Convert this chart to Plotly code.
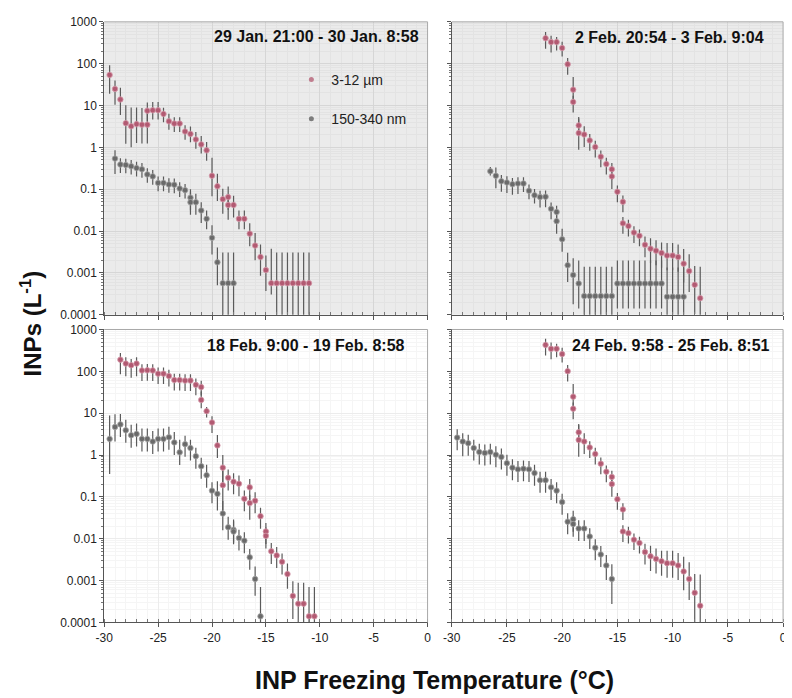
import plotly.graph_objects as go

# ---------------- data ----------------
# Panel 1: 29 Jan. 21:00 - 30 Jan. 8:58
tl_pink_x = [-29.5, -29, -28.5, -28, -27.5, -27, -26.5, -26, -26, -25.5, -25, -24.5, -24, -23.5, -23, -22.5, -22,
             -21.5, -21, -20.5, -20, -19.5, -19, -18.5, -18.5, -18, -17.5, -17, -16.5, -16, -15.5, -15,
             -14.5, -14, -13.5, -13, -12.5, -12, -11.5, -11]
tl_pink_y = [54, 25, 14, 3.8, 3.2, 3.6, 3.5, 3.5, 7.5, 7.7, 7.7, 6.3, 4.2, 3.7, 3.7, 2.4, 2.1,
             1.55, 1.18, 0.85, 0.21, 0.118, 0.058, 0.065, 0.042, 0.042, 0.0196, 0.0196, 0.0087, 0.0045, 0.0024, 0.00117,
             0.00057, 0.00057, 0.00057, 0.00057, 0.00057, 0.00057, 0.00057, 0.00057]
tl_pink_up = [.23, .2, .28, .43, .45, .4, .4, .4, .2, .2, .2, .15, .18, .15, .15, .15, .18,
              .18, .2, .2, .43, .3, .25, .25, .25, .22, .2, .2, .25, .3, .3, .35,
              .82, .73, .73, .73, .73, .73, .73, .73]
tl_pink_dn = [.45, .38, .37, .49, .5, .45, .45, .45, .25, .22, .22, .2, .2, .2, .2, .2, .2,
              .22, .22, .25, .49, .35, .35, .3, .35, .3, .25, .25, .3, .35, .45, .5,
              .27, 1.5, 1.5, 1.5, 1.5, 1.5, 1.5, 1.5]
tl_grey_x = [-29, -28.5, -28, -27.5, -27, -26.5, -26, -25.5, -25, -24.5, -24, -23.5, -23, -22.5, -22, -22,
             -21.5, -21, -20.5, -20, -19.5, -19, -18.5, -18]
tl_grey_y = [0.54, 0.39, 0.38, 0.355, 0.32, 0.30, 0.226, 0.203, 0.142, 0.142, 0.13, 0.128, 0.104, 0.095, 0.063, 0.049,
             0.049, 0.031, 0.0196, 0.0069, 0.0018, 0.00057, 0.00057, 0.00057]
tl_grey_up = [.2, .15, .15, .15, .15, .15, .15, .15, .15, .15, .15, .15, .15, .15, .2, .25,
              .2, .2, .2, .3, .35, .73, .73, .73]
tl_grey_dn = [.37, .2, .2, .2, .2, .2, .2, .2, .2, .2, .2, .2, .2, .2, .3, .3,
              .3, .3, .25, .4, .55, 1.5, 1.5, 1.5]

# Panel 2: 2 Feb. 20:54 - 3 Feb. 9:04
tr_pink_x = [-21.5, -21, -20.5, -20, -19.5, -19, -19, -18.5, -18.5, -18, -17.5, -17, -16.5, -16, -15.5, -15.5,
             -15, -14.5, -14.5, -14, -13.5, -13, -12.5, -12, -11.5, -11, -10.5, -10, -9.5, -9, -8.5, -8, -7.5]
tr_pink_y = [407, 328, 328, 237, 97, 24, 12.2, 3.35, 2.2, 2.03, 1.47, 1.02, 0.60, 0.40, 0.30, 0.203,
             0.087, 0.050, 0.0153, 0.0132, 0.0092, 0.0077, 0.0047, 0.0038, 0.0034, 0.0030, 0.0026, 0.0026, 0.0024,
             0.00167, 0.00111, 0.00052, 0.00025]
tr_pink_up = [.15, .15, .12, .15, .15, .3, .15, .2, .35, .2, .15, .15, .15, .15, .15, .15,
              .15, .15, .15, .15, .15, .15, .2, .25, .25, .25, .3, .3, .3, .35, .4, .45, .75]
tr_pink_dn = [.25, .25, .2, .2, .25, .3, .25, .2, .4, .3, .25, .25, .25, .25, .25, .3,
              .25, .25, .25, .25, .25, .25, .3, .35, .35, .35, .35, .35, .35, .45, .5, .7, 1.0]
tr_grey_x = [-26.5, -26, -25.5, -25, -24.5, -24, -23.5, -23, -22.5, -22, -21.5, -21, -20.5, -20.5, -20, -19.5, -19,
             -18.5, -18, -17.5, -17, -16.5, -16, -15.5, -15, -14.5, -14, -13.5, -13, -12.5, -12, -11.5, -11,
             -10.5, -10, -9.5, -9]
tr_grey_y = [0.27, 0.21, 0.155, 0.145, 0.132, 0.137, 0.137, 0.092, 0.072, 0.065, 0.066, 0.034, 0.0286, 0.0173,
             0.0064, 0.00153, 0.00089, 0.00056, 0.00028, 0.00028, 0.00028, 0.00028, 0.00028, 0.00028,
             0.00056, 0.00056, 0.00056, 0.00056, 0.00056, 0.00056, 0.00056, 0.00056, 0.00056,
             0.00027, 0.00027, 0.00027, 0.00027]
tr_grey_up = [.1, .2, .15, .15, .15, .15, .15, .15, .15, .15, .15, .15, .15, .15, .25, .3, .4, .55,
              .7, .7, .7, .7, .7, .7, .55, .55, .55, .55, .55, .55, .55, .55, .55, .7, .7, .7, .7]
tr_grey_dn = [.1, .3, .25, .25, .25, .25, .2, .2, .2, .25, .25, .25, .2, .3, .3, .4, .7, .6,
              1.5, 1.5, 1.5, 1.5, 1.5, 1.5, .6, .6, .6, .6, .6, .6, .6, .6, .6, 1.5, 1.5, 1.5, 1.5]

# Panel 3: 18 Feb. 9:00 - 19 Feb. 8:58
bl_pink_x = [-28.5, -28, -27.5, -27, -26.5, -26, -25.5, -25, -24.5, -24, -23.5, -23, -22.5, -22, -21.5, -21, -21,
             -20.5, -20, -19.5, -19, -19, -18.5, -18, -17.5, -17, -16.5, -16.5, -16, -15.5, -15, -15,
             -14.5, -14, -13.5, -13, -12.5, -12, -11.5, -11, -10.5]
bl_pink_y = [190, 153, 140, 153, 105, 106, 105, 88, 88, 77, 62, 62, 60, 60, 47.5, 42, 20.7,
             11.2, 6.0, 1.7, 0.50, 0.19, 0.285, 0.23, 0.206, 0.090, 0.169, 0.071, 0.081, 0.0346, 0.0149, 0.0117,
             0.0050, 0.0040, 0.0028, 0.00143, 0.00043, 0.00028, 0.00028, 0.00014, 0.00014]
bl_pink_up = [.16, .15, .15, .15, .15, .15, .15, .15, .15, .15, .15, .15, .15, .15, .15, .15, .2,
              .1, .15, .25, .3, .35, .2, .2, .2, .2, .2, .2, .2, .2, .2, .2,
              .2, .2, .2, .25, .35, .5, .5, .7, .7]
bl_pink_dn = [.35, .3, .3, .3, .25, .25, .25, .25, .25, .25, .25, .25, .25, .25, .25, .2, .2,
              .15, .25, .3, .45, .6, .3, .3, .3, .3, .3, .4, .3, .3, .3, .3,
              .3, .3, .3, .35, .55, 1.5, 1.5, 1.5, 1.5]
bl_grey_x = [-29.5, -29, -28.5, -28, -27.5, -27, -26.5, -26, -25.5, -25, -24.5, -24, -23.5, -23, -22.5, -22,
             -21.5, -21, -20.5, -20, -19.5, -19, -18.5, -18, -18, -17.5, -17, -16.5, -16, -15.5]
bl_grey_y = [2.43, 4.7, 5.4, 3.9, 2.97, 3.2, 2.43, 2.43, 2.1, 2.43, 2.43, 2.66, 2.0, 1.16, 1.82, 1.47,
             0.94, 0.54, 0.33, 0.141, 0.118, 0.040, 0.0188, 0.0163, 0.0148, 0.0104, 0.0090, 0.0036, 0.00109, 0.00014]
bl_grey_up = [.56, .3, .25, .25, .25, .25, .25, .25, .25, .25, .25, .25, .25, .3, .2, .2,
              .2, .2, .25, .2, .3, .3, .25, .25, .25, .2, .2, .2, .3, .7]
bl_grey_dn = [.84, .35, .3, .3, .3, .3, .3, .3, .3, .3, .3, .3, .3, .3, .3, .3,
              .3, .3, .3, .3, .4, .4, .3, .3, .3, .3, .3, .3, .4, 1.5]

# Panel 4: 24 Feb. 9:58 - 25 Feb. 8:51
br_pink_x = [-21.5, -21, -20.5, -20, -19.5, -19, -19, -18.5, -18.5, -18, -17.5, -17, -16.5, -16, -15.5, -15.5,
             -15, -14.5, -14.5, -14, -13.5, -13, -12.5, -12, -11.5, -11, -10.5, -10, -9.5, -9, -8.5, -8, -7.5]
br_pink_y = [428, 345, 345, 258, 101, 24.8, 12.8, 3.5, 2.3, 2.1, 1.52, 1.06, 0.62, 0.40, 0.30, 0.202,
             0.088, 0.050, 0.0149, 0.0136, 0.0095, 0.0079, 0.0048, 0.0038, 0.0033, 0.0029, 0.0026, 0.0026, 0.0023,
             0.00165, 0.00109, 0.00051, 0.00025]
br_pink_up = [.15, .15, .12, .15, .15, .3, .15, .2, .35, .2, .15, .15, .15, .15, .15, .15,
              .15, .15, .15, .15, .15, .15, .2, .25, .25, .25, .3, .3, .3, .35, .4, .45, .75]
br_pink_dn = [.25, .25, .2, .2, .25, .3, .25, .2, .4, .3, .25, .25, .25, .25, .25, .3,
              .25, .25, .25, .25, .25, .25, .3, .35, .35, .35, .35, .35, .35, .45, .5, .7, 1.0]
br_grey_x = [-29.5, -29, -28.5, -28, -27.5, -27, -26.5, -26, -25.5, -25, -24.5, -24, -23.5, -23, -22.5, -22,
             -21.5, -21, -20.5, -20, -19.5, -19, -19, -18.5, -18, -17.5, -17, -16.5, -16, -15.5]
br_grey_y = [2.61, 2.1, 1.92, 1.47, 1.18, 1.12, 1.18, 1.02, 0.90, 0.64, 0.50, 0.455, 0.47, 0.455, 0.37, 0.25,
             0.25, 0.169, 0.141, 0.075, 0.0255, 0.0294, 0.0224, 0.0175, 0.0175, 0.0113, 0.0061, 0.0042, 0.0023, 0.00109]
br_grey_up = [.2] * 28 + [.25, .35]
br_grey_dn = [.3, .35] + [.3] * 26 + [.35, .6]

panel_titles = ["29 Jan. 21:00 - 30 Jan. 8:58", "2 Feb. 20:54 - 3 Feb. 9:04",
                "18 Feb. 9:00 - 19 Feb. 8:58", "24 Feb. 9:58 - 25 Feb. 8:51"]
series_names = ["3-12 µm", "150-340 nm"]
y_tickvals = [0.0001, 0.001, 0.01, 0.1, 1, 10, 100, 1000]
y_ticktext = ["0.0001", "0.001", "0.01", "0.1", "1", "10", "100", "1000"]
x_tickvals = [-30, -25, -20, -15, -10, -5, 0]
x_ticktext = ["-30", "-25", "-20", "-15", "-10", "-5", "0"]

# ---------------- styling ----------------
# The page body keeps its default 8px margin, so the figure is sized to fit the window after that offset.
W, H, OFF = 792, 698, 8
FW, FH = W - OFF, H - OFF
FONT = "Liberation Sans, Arial, sans-serif"
PINK = "#b25a72"
PINK_EDGE = "#d69aab"
GREY = "#6a6a6a"
GREY_EDGE = "#a5a5a5"
BAR = "#5a5a5a"

px_x = lambda p: (p - OFF) / FW          # page pixel -> paper fraction
px_y = lambda p: 1 - (p - OFF) / FH

x_dom = [[px_x(96.7), px_x(425.5)], [px_x(450), px_x(787)]]
y_dom = [[px_y(314), px_y(15)], [px_y(628), px_y(329)]]

fig = go.Figure()


def add_series(xs, ys, up, dn, color, edge, xa, ya):
    plus = [v * (10 ** u - 1) for v, u in zip(ys, up)]
    minus = [v * (1 - 10 ** (-d)) for v, d in zip(ys, dn)]
    fig.add_trace(go.Scatter(
        x=xs, y=ys, mode="markers", xaxis=xa, yaxis=ya, showlegend=False, hoverinfo="x+y",
        marker=dict(size=5.5, color=color, line=dict(color=edge, width=0.8)),
        error_y=dict(type="data", symmetric=False, array=plus, arrayminus=minus,
                     color=BAR, thickness=1.2, width=0),
    ))


panels = [
    (tl_pink_x, tl_pink_y, tl_pink_up, tl_pink_dn, tl_grey_x, tl_grey_y, tl_grey_up, tl_grey_dn),
    (tr_pink_x, tr_pink_y, tr_pink_up, tr_pink_dn, tr_grey_x, tr_grey_y, tr_grey_up, tr_grey_dn),
    (bl_pink_x, bl_pink_y, bl_pink_up, bl_pink_dn, bl_grey_x, bl_grey_y, bl_grey_up, bl_grey_dn),
    (br_pink_x, br_pink_y, br_pink_up, br_pink_dn, br_grey_x, br_grey_y, br_grey_up, br_grey_dn),
]

minor_y = [m * 10 ** e for e in range(-4, 3) for m in range(2, 10)]

layout_axes = {}
shapes = []
for i, p in enumerate(panels):
    n = "" if i == 0 else str(i + 1)
    xa, ya = "x" + n, "y" + n
    add_series(p[4], p[5], p[6], p[7], GREY, GREY_EDGE, xa, ya)
    add_series(p[0], p[1], p[2], p[3], PINK, PINK_EDGE, xa, ya)
    row, col = i // 2, i % 2
    top = row == 0
    bg_grid = "#d6d6d6" if top else "#ececec"
    bg_minor = "#e3e3e3" if top else "#f5f5f5"
    layout_axes["xaxis" + n] = dict(
        domain=x_dom[col], anchor=ya, range=[-30, 0], tickmode="array",
        tickvals=x_tickvals, ticktext=x_ticktext, showticklabels=not top, ticklabeloverflow="allow",
        ticks="outside", ticklen=4, tickcolor="#555", showline=True, linecolor="#555", linewidth=1,
        showgrid=True, gridcolor=bg_grid, gridwidth=1, zeroline=False,
        minor=dict(dtick=1, tick0=0, ticks="inside", ticklen=3, tickcolor="#777",
                   showgrid=True, gridcolor=bg_minor, gridwidth=1),
        tickfont=dict(family=FONT, size=12, color="#222"), fixedrange=True,
    )
    layout_axes["yaxis" + n] = dict(
        domain=y_dom[row], anchor=xa, type="log", range=[-4, 3], tickmode="array",
        tickvals=y_tickvals, ticktext=y_ticktext, showticklabels=(col == 0), ticklabeloverflow="allow",
        ticks="outside", ticklen=4, tickcolor="#555", showline=True, linecolor="#555", linewidth=1,
        showgrid=True, gridcolor=bg_grid, gridwidth=1, zeroline=False,
        minor=dict(tickmode="array", tickvals=minor_y, ticks="outside", ticklen=2, tickcolor="#777",
                   showgrid=True, gridcolor=bg_minor, gridwidth=1),
        tickfont=dict(family=FONT, size=12, color="#222"), fixedrange=True,
    )
    # light frame on top and right edges
    shapes.append(dict(type="line", xref=xa + " domain", yref=ya + " domain", x0=0, x1=1, y0=1, y1=1,
                       line=dict(color="#a8a8a8", width=1)))
    shapes.append(dict(type="line", xref=xa + " domain", yref=ya + " domain", x0=1, x1=1, y0=0, y1=1,
                       line=dict(color="#a8a8a8", width=1)))
    if top:
        shapes.append(dict(type="rect", xref=xa + " domain", yref=ya + " domain", x0=0, x1=1, y0=0, y1=1,
                           fillcolor="#ebebeb", line=dict(width=0), layer="below"))

# legend entries (dummy traces carry only the legend)
fig.add_trace(go.Scatter(x=[None], y=[None], mode="markers", name=series_names[0], legendgroup="a",
                         marker=dict(size=5, color="#c07d8e", line=dict(width=0))))
fig.add_trace(go.Scatter(x=[None], y=[None], mode="markers", name=series_names[1], legendgroup="b",
                         marker=dict(size=5, color="#7d7d7d", line=dict(width=0))))

title_pos = [(419, 29.5), (770, 31), (405, 345), (776, 345)]
annotations = []
for t, (ax, ay) in zip(panel_titles, title_pos):
    annotations.append(dict(text="<b>" + t + "</b>", x=px_x(ax), y=px_y(ay), xref="paper", yref="paper",
                            xanchor="right", yanchor="middle", showarrow=False,
                            font=dict(family=FONT, size=16, color="#111")))
annotations.append(dict(text="<b>INPs (L<sup>-1</sup>)</b>", x=px_x(22), y=px_y(323), xref="paper", yref="paper",
                        xanchor="center", yanchor="middle", textangle=-90, showarrow=False,
                        font=dict(family=FONT, size=24, color="#111")))
annotations.append(dict(text="<b>INP Freezing Temperature (°C)</b>", x=px_x(433), y=px_y(687), xref="paper",
                        yref="paper", xanchor="center", yanchor="middle", showarrow=False,
                        font=dict(family=FONT, size=25, color="#111")))

fig.update_layout(
    width=FW, height=FH, margin=dict(l=0, r=0, t=0, b=0),
    paper_bgcolor="white", plot_bgcolor="rgba(0,0,0,0)",
    showlegend=True,
    legend=dict(x=px_x(287), y=px_y(58), xanchor="left", yanchor="top", bgcolor="rgba(0,0,0,0)",
                font=dict(family=FONT, size=14, color="#222"), tracegroupgap=18, itemwidth=30),
    shapes=shapes, annotations=annotations,
    **layout_axes,
)

fig.write_html("out.html")
